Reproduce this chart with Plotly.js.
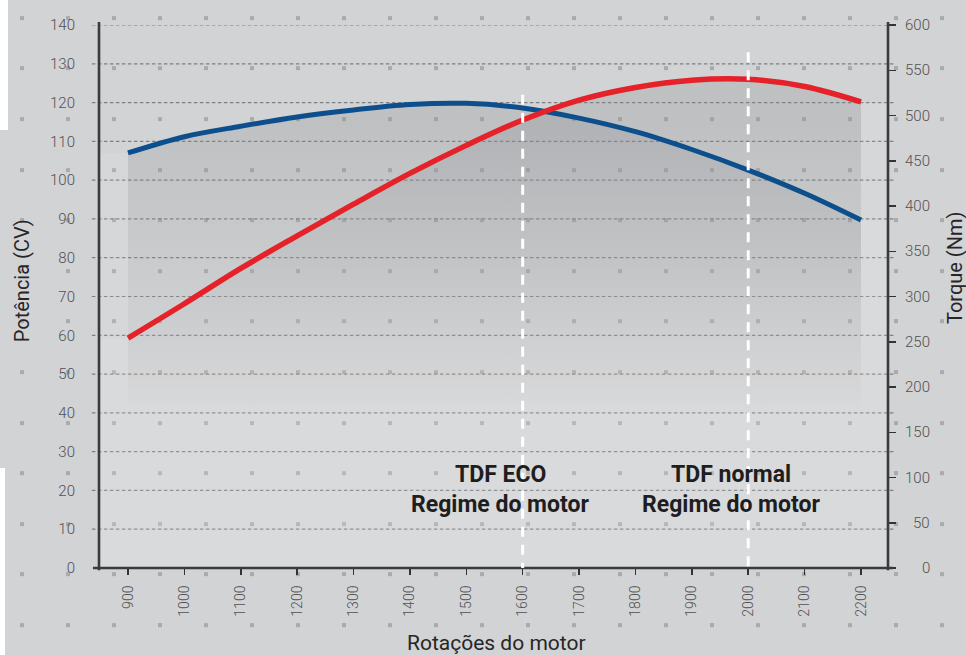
<!DOCTYPE html>
<html>
<head>
<meta charset="utf-8">
<script src="https://cdn.plot.ly/plotly-3.0.1.min.js"></script>
<style>
  html, body { margin: 0; padding: 0; }
  body {
    width: 966px; height: 655px; overflow: hidden; position: relative;
    background-color: #d2d3d5;
    background-image: url("data:image/svg+xml,%3Csvg xmlns='http://www.w3.org/2000/svg' width='46' height='50.6'%3E%3Crect x='20' y='16' width='4' height='4' fill='%23a9aaac'/%3E%3C/svg%3E");
    background-size: 46px 50.6px;
    background-position: 0 0;
  }
  #cornerTop { position: absolute; left: 0; top: 0; width: 8px; height: 130px; background: #ffffff; }
  #cornerBottom { position: absolute; left: 0; top: 468px; width: 5px; height: 187px; background: #ffffff; }
  #chart { position: absolute; left: 0; top: 0; width: 966px; height: 655px; }
</style>
</head>
<body>
<div id="cornerTop"></div>
<div id="cornerBottom"></div>
<div id="chart"></div>
<script>
// ---- data ----
const rpm      = [900, 1000, 1100, 1200, 1300, 1400, 1500, 1600, 1700, 1800, 1900, 2000, 2100, 2200];
const powerCV  = [107.0, 111.2, 113.9, 116.3, 118.1, 119.5, 119.8, 118.6, 116.0, 112.5, 107.9, 102.6, 96.6, 89.7];
const torqueNm = [254, 292, 331, 367, 402, 436, 467, 495, 517, 531, 539, 540, 532, 515];

const leftTicks  = [0, 10, 20, 30, 40, 50, 60, 70, 80, 90, 100, 110, 120, 130, 140];
const rightTicks = [0, 50, 100, 150, 200, 250, 300, 350, 400, 450, 500, 550, 600];
const xTicks     = [900, 1000, 1100, 1200, 1300, 1400, 1500, 1600, 1700, 1800, 1900, 2000, 2100, 2200];

const markers = [
  {rpm: 1600, top: 122, line1: 'TDF ECO',    line2: 'Regime do motor'},
  {rpm: 2000, top: 133, line1: 'TDF normal', line2: 'Regime do motor'}
];

const xRange  = [848.6, 2247.9];
const yRange  = [0, 140];
const y2Range = [0, 600];

const FONT = 'Roboto, "DejaVu Sans", sans-serif';
const BLUE = '#0c4f8c';
const RED  = '#e5222a';

// extended copies (flat to the plot edges) for the light underlay
const xExt = [xRange[0]].concat(rpm, [xRange[1]]);
const pExt = [powerCV[0]].concat(powerCV, [powerCV[powerCV.length - 1]]);
const tExt = [torqueNm[0]].concat(torqueNm, [torqueNm[torqueNm.length - 1]]);

const traces = [
  // light underlays
  {x: xExt, y: pExt, yaxis: 'y', type: 'scatter', mode: 'lines', fill: 'tozeroy',
   fillcolor: 'rgba(255,255,255,0.09)', line: {width: 0, shape: 'spline', smoothing: 0.6}, hoverinfo: 'skip'},
  {x: xExt, y: tExt, yaxis: 'y2', type: 'scatter', mode: 'lines', fill: 'tozeroy',
   fillcolor: 'rgba(255,255,255,0.09)', line: {width: 0, shape: 'spline', smoothing: 0.6}, hoverinfo: 'skip'},
  // gradient shading
  {x: rpm, y: powerCV, yaxis: 'y', type: 'scatter', mode: 'lines', fill: 'tozeroy',
   fillgradient: {type: 'vertical', start: 40, stop: 115,
     colorscale: [[0, 'rgba(100,102,108,0)'], [1, 'rgba(100,102,108,0.2)']]},
   line: {width: 0, shape: 'spline'}, hoverinfo: 'skip'},
  {x: rpm, y: torqueNm, yaxis: 'y2', type: 'scatter', mode: 'lines', fill: 'tozeroy',
   fillgradient: {type: 'vertical', start: 170, stop: 490,
     colorscale: [[0, 'rgba(100,102,108,0)'], [1, 'rgba(100,102,108,0.2)']]},
   line: {width: 0, shape: 'spline'}, hoverinfo: 'skip'},
  // curves
  {x: rpm, y: powerCV, yaxis: 'y3', type: 'scatter', mode: 'lines', name: 'Potência',
   line: {color: BLUE, width: 5, shape: 'spline'}},
  {x: rpm, y: torqueNm, yaxis: 'y4', type: 'scatter', mode: 'lines', name: 'Torque',
   line: {color: RED, width: 5.5, shape: 'spline'}}
];

const shapes = [];
// dashed gridlines (extend past both axis lines)
leftTicks.filter(v => v > 0).forEach(v => {
  shapes.push({type: 'line', xref: 'paper', yref: 'y', x0: -0.009, x1: 1.009, y0: v, y1: v,
    layer: 'below', line: {color: '#7e7f82', width: 1.2, dash: '3.5px,2.5px'}});
});
// axis lines
shapes.push({type: 'line', xref: 'paper', yref: 'paper', x0: 0, x1: 0, y0: -0.004, y1: 1.0055,
  layer: 'above', line: {color: '#3a3b3d', width: 2.6}});
shapes.push({type: 'line', xref: 'paper', yref: 'paper', x0: 1, x1: 1, y0: -0.004, y1: 1.0055,
  layer: 'above', line: {color: '#3a3b3d', width: 2.6}});
shapes.push({type: 'line', xref: 'paper', yref: 'paper', x0: -0.0076, x1: 1.0063, y0: 0, y1: 0,
  layer: 'above', line: {color: '#3a3b3d', width: 2.6}});
// white dashed marker lines
markers.forEach(m => {
  shapes.push({type: 'line', xref: 'x', yref: 'y', x0: m.rpm, x1: m.rpm, y0: m.top, y1: 0,
    layer: 'above', line: {color: '#ffffff', width: 3, dash: '10px,8px'}});
});

const annotations = [];
// right axis labels (right aligned)
rightTicks.forEach(v => {
  annotations.push({xref: 'paper', yref: 'y2', x: 1.0558, y: v, xanchor: 'right', yanchor: 'middle',
    text: String(v), showarrow: false, font: {family: FONT, size: 15, color: '#505153', weight: 300}});
});
// marker labels
const labelFont = {family: FONT, size: 23, color: '#1e1e20', weight: 700};
annotations.push({xref: 'x', yref: 'paper', x: 1560, y: (568 - 474) / 543, text: markers[0].line1,
  showarrow: false, xanchor: 'center', yanchor: 'middle', font: labelFont});
annotations.push({xref: 'x', yref: 'paper', x: 1560, y: (568 - 504) / 543, text: markers[0].line2,
  showarrow: false, xanchor: 'center', yanchor: 'middle', font: labelFont});
annotations.push({xref: 'x', yref: 'paper', x: 1970, y: (568 - 474) / 543, text: markers[1].line1,
  showarrow: false, xanchor: 'center', yanchor: 'middle', font: labelFont});
annotations.push({xref: 'x', yref: 'paper', x: 1970, y: (568 - 504) / 543, text: markers[1].line2,
  showarrow: false, xanchor: 'center', yanchor: 'middle', font: labelFont});
// axis titles
annotations.push({xref: 'paper', yref: 'paper', x: -0.0976, y: 0.53, text: 'Potência (CV)', textangle: -90,
  showarrow: false, xanchor: 'center', yanchor: 'middle', font: {family: FONT, size: 20, color: '#262628'}});
annotations.push({xref: 'paper', yref: 'paper', x: 1.085, y: 0.5525, text: 'Torque (Nm)', textangle: -90,
  showarrow: false, xanchor: 'center', yanchor: 'middle', font: {family: FONT, size: 20, color: '#262628'}});
annotations.push({xref: 'paper', yref: 'paper', x: 0.5044, y: -0.138, text: 'Rotações do motor',
  showarrow: false, xanchor: 'center', yanchor: 'middle', font: {family: FONT, size: 21, color: '#262628'}});

const tickFont = {family: FONT, size: 15, color: '#505153', weight: 300};

const layout = {
  width: 966, height: 655,
  margin: {l: 99, r: 78, t: 25, b: 87, pad: 0},
  paper_bgcolor: 'rgba(0,0,0,0)',
  plot_bgcolor: 'rgba(0,0,0,0)',
  showlegend: false,
  font: {family: FONT},
  xaxis: {
    range: xRange, tickvals: xTicks, ticktext: xTicks.map(String), tickangle: -90,
    ticks: 'outside', ticklen: 6, tickwidth: 1.5, tickcolor: '#333335',
    showgrid: false, zeroline: false, showline: false,
    tickfont: {family: FONT, size: 14, color: '#505153', weight: 300}, ticklabelstandoff: 5
  },
  yaxis: {
    range: yRange, tickvals: leftTicks, ticktext: leftTicks.map(String),
    ticks: '', showgrid: false, zeroline: false, showline: false,
    tickfont: tickFont, ticklabelstandoff: 23
  },
  yaxis2: {
    range: y2Range, overlaying: 'y', side: 'right', tickvals: rightTicks,
    ticks: 'outside', ticklen: 7, tickwidth: 1.5, tickcolor: '#333335',
    showticklabels: false, showgrid: false, zeroline: false, showline: false
  },
  yaxis3: {range: yRange, overlaying: 'y', visible: false},
  yaxis4: {range: y2Range, overlaying: 'y', visible: false},
  shapes: shapes,
  annotations: annotations
};

Plotly.newPlot('chart', traces, layout, {displayModeBar: false, staticPlot: true});
</script>
</body>
</html>
